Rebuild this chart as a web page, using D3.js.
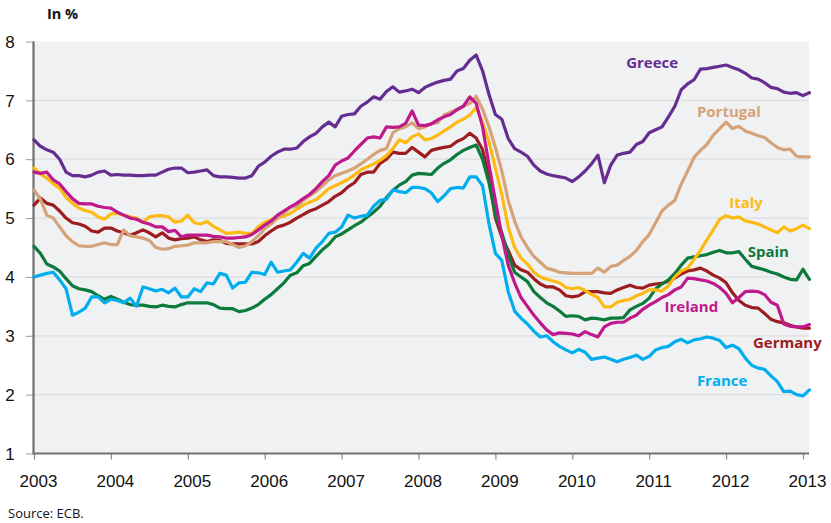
<!DOCTYPE html>
<html><head><meta charset="utf-8">
<script src="https://cdn.jsdelivr.net/npm/d3@7"></script>
<style>
body{margin:0;background:#fff;}
svg{display:block;font-family:"Open Sans","Noto Sans",sans-serif;}
</style></head>
<body><svg id="c" width="831" height="523"></svg>
<script>
// Monthly data, Jan 2003 .. Feb 2013 (in %)
const startYear = 2003;
const yearTicks = [2003,2004,2005,2006,2007,2008,2009,2010,2011,2012,2013];
const yTicks = [1,2,3,4,5,6,7,8];

const germany = [5.22,5.34,5.25,5.22,5.12,5.0,4.92,4.9,4.86,4.78,4.76,4.83,4.83,4.78,4.75,4.71,4.75,4.8,4.75,4.68,4.75,4.66,4.63,4.65,4.66,4.68,4.63,4.6,4.63,4.62,4.57,4.56,4.56,4.56,4.56,4.6,4.7,4.78,4.85,4.88,4.93,5.0,5.06,5.12,5.16,5.22,5.28,5.37,5.43,5.53,5.6,5.74,5.78,5.78,5.93,6.0,6.12,6.1,6.1,6.2,6.12,6.04,6.15,6.18,6.2,6.22,6.3,6.35,6.44,6.36,6.16,5.7,5.0,4.68,4.45,4.2,4.12,4.08,3.97,3.88,3.83,3.83,3.78,3.68,3.66,3.68,3.75,3.75,3.75,3.73,3.72,3.78,3.82,3.86,3.82,3.81,3.86,3.88,3.89,3.93,3.98,4.05,4.1,4.12,4.15,4.1,4.03,3.98,3.9,3.73,3.6,3.52,3.48,3.47,3.38,3.28,3.24,3.22,3.18,3.15,3.13,3.13];
const spain = [4.52,4.4,4.22,4.17,4.1,3.97,3.85,3.8,3.78,3.75,3.68,3.62,3.67,3.62,3.57,3.53,3.52,3.52,3.5,3.49,3.52,3.5,3.49,3.53,3.56,3.56,3.56,3.56,3.53,3.47,3.46,3.46,3.41,3.43,3.47,3.53,3.62,3.7,3.8,3.9,4.03,4.07,4.19,4.23,4.35,4.46,4.55,4.68,4.73,4.8,4.87,4.93,5.02,5.1,5.2,5.35,5.47,5.56,5.62,5.73,5.76,5.75,5.74,5.85,5.93,5.99,6.08,6.15,6.2,6.24,6.0,5.6,5.05,4.75,4.38,4.08,4.0,3.92,3.75,3.65,3.56,3.5,3.42,3.33,3.34,3.33,3.27,3.3,3.29,3.27,3.3,3.3,3.31,3.44,3.5,3.55,3.64,3.8,3.88,3.95,4.06,4.2,4.32,4.34,4.36,4.38,4.42,4.45,4.41,4.41,4.43,4.3,4.18,4.15,4.12,4.08,4.05,4.0,3.96,3.95,4.13,3.96];
const france = [4.0,4.03,4.06,4.08,3.95,3.8,3.35,3.4,3.47,3.66,3.66,3.56,3.62,3.6,3.56,3.64,3.5,3.83,3.8,3.76,3.79,3.73,3.81,3.66,3.66,3.8,3.75,3.9,3.88,4.06,4.03,3.81,3.9,3.91,4.08,4.07,4.04,4.25,4.08,4.1,4.12,4.25,4.4,4.32,4.49,4.6,4.74,4.76,4.85,5.05,5.0,5.03,5.05,5.2,5.3,5.32,5.48,5.45,5.43,5.52,5.52,5.5,5.43,5.28,5.38,5.5,5.52,5.51,5.7,5.7,5.55,4.9,4.4,4.28,3.75,3.42,3.3,3.2,3.08,2.98,3.0,2.9,2.82,2.76,2.71,2.77,2.72,2.6,2.62,2.64,2.6,2.56,2.6,2.63,2.67,2.6,2.65,2.76,2.8,2.82,2.9,2.94,2.88,2.93,2.95,2.98,2.96,2.92,2.8,2.84,2.78,2.62,2.5,2.45,2.43,2.32,2.22,2.05,2.06,2.0,1.98,2.08];
const italy = [5.85,5.75,5.68,5.58,5.51,5.35,5.25,5.17,5.13,5.1,5.02,4.98,5.07,5.08,5.05,5.02,5.0,4.93,5.02,5.04,5.04,5.02,4.93,4.95,5.05,4.92,4.9,4.94,4.86,4.8,4.74,4.75,4.76,4.74,4.74,4.85,4.93,4.97,5.0,5.03,5.08,5.15,5.22,5.27,5.31,5.4,5.5,5.55,5.6,5.66,5.73,5.82,5.87,5.92,5.98,6.06,6.18,6.33,6.28,6.38,6.43,6.33,6.35,6.41,6.48,6.55,6.63,6.68,6.75,6.88,6.62,6.3,5.85,5.4,4.85,4.5,4.32,4.22,4.08,4.0,3.96,3.93,3.9,3.82,3.8,3.82,3.77,3.7,3.65,3.49,3.49,3.57,3.6,3.62,3.68,3.72,3.78,3.78,3.76,3.85,4.0,4.1,4.15,4.3,4.45,4.63,4.8,4.98,5.04,5.0,5.02,4.95,4.93,4.9,4.85,4.8,4.75,4.85,4.78,4.82,4.88,4.82];
const portugal = [5.48,5.32,5.05,5.0,4.85,4.7,4.6,4.53,4.52,4.52,4.55,4.58,4.55,4.55,4.8,4.7,4.68,4.66,4.62,4.5,4.47,4.48,4.52,4.53,4.54,4.58,4.58,4.58,4.6,4.6,4.6,4.55,4.5,4.53,4.6,4.7,4.82,4.9,5.0,5.08,5.18,5.2,5.3,5.38,5.45,5.55,5.65,5.72,5.76,5.8,5.85,5.92,6.0,6.08,6.15,6.18,6.45,6.52,6.55,6.62,6.52,6.55,6.6,6.62,6.75,6.8,6.85,6.9,6.95,7.07,6.85,6.55,6.2,5.8,5.3,4.95,4.68,4.5,4.35,4.25,4.15,4.12,4.08,4.07,4.06,4.06,4.06,4.06,4.15,4.08,4.18,4.2,4.28,4.35,4.45,4.6,4.72,4.92,5.12,5.22,5.3,5.58,5.8,6.03,6.15,6.25,6.41,6.52,6.63,6.52,6.56,6.48,6.44,6.4,6.37,6.28,6.2,6.16,6.17,6.05,6.04,6.04];
const ireland = [5.78,5.76,5.78,5.65,5.58,5.45,5.33,5.25,5.24,5.24,5.2,5.18,5.17,5.1,5.05,5.0,4.98,4.93,4.9,4.85,4.85,4.77,4.79,4.68,4.71,4.71,4.71,4.71,4.69,4.68,4.66,4.66,4.67,4.68,4.72,4.8,4.88,4.95,5.05,5.12,5.19,5.25,5.33,5.4,5.5,5.62,5.72,5.9,5.97,6.02,6.14,6.25,6.36,6.38,6.36,6.55,6.54,6.55,6.61,6.82,6.58,6.57,6.6,6.67,6.72,6.76,6.84,6.9,7.06,6.95,6.55,5.9,5.3,4.7,4.2,3.9,3.65,3.5,3.35,3.22,3.1,3.02,3.05,3.04,3.03,3.0,3.07,3.02,2.98,3.15,3.21,3.23,3.23,3.3,3.35,3.45,3.52,3.58,3.65,3.7,3.78,3.83,3.98,3.97,3.95,3.93,3.89,3.82,3.72,3.56,3.65,3.75,3.76,3.75,3.7,3.57,3.52,3.2,3.16,3.15,3.15,3.19];
const greece = [6.33,6.22,6.16,6.12,6.0,5.78,5.72,5.72,5.7,5.73,5.78,5.8,5.73,5.74,5.73,5.73,5.72,5.72,5.73,5.73,5.78,5.83,5.85,5.85,5.77,5.78,5.8,5.82,5.72,5.7,5.7,5.69,5.68,5.68,5.72,5.88,5.95,6.05,6.12,6.17,6.17,6.19,6.3,6.38,6.44,6.55,6.63,6.55,6.73,6.76,6.77,6.9,6.97,7.06,7.02,7.15,7.23,7.14,7.16,7.19,7.13,7.22,7.27,7.31,7.34,7.36,7.5,7.54,7.68,7.77,7.5,7.1,6.76,6.68,6.35,6.18,6.12,6.05,5.9,5.8,5.75,5.72,5.7,5.68,5.62,5.7,5.8,5.92,6.07,5.6,5.9,6.07,6.1,6.12,6.25,6.3,6.45,6.5,6.55,6.72,6.9,7.18,7.28,7.35,7.53,7.54,7.56,7.58,7.6,7.56,7.52,7.46,7.38,7.36,7.3,7.22,7.2,7.14,7.12,7.13,7.08,7.13];

const seriesNames = ["Germany","Spain","France","Italy","Portugal","Ireland","Greece"];
const seriesValues = [germany,spain,france,italy,portugal,ireland,greece];
const seriesColors = ["#9d1c20","#0b7a3b","#00aeef","#fdbb12","#d6a277","#c0198b","#662d91"];
// label anchor (baseline-left) in data space: [year, value]
const labelPos = {
  Greece:[2010.70,7.55], Portugal:[2011.62,6.72], Italy:[2012.04,5.17],
  Spain:[2012.28,4.34], Ireland:[2011.2,3.40], Germany:[2012.35,2.79], France:[2011.62,2.15]
};

const svg = d3.select("#c");
const L=34, R=809, T=41.5, B=453.5;
const x = d3.scaleLinear().domain([2003,2013]).range([L,803]);
const y = d3.scaleLinear().domain([1,8]).range([B,T]);

svg.append("rect").attr("x",L).attr("y",T).attr("width",R-L).attr("height",B-T).attr("fill","#f0f1f3");

// gridlines
svg.append("g").selectAll("line").data(yTicks.filter(v=>v>1&&v<8)).join("line")
  .attr("x1",L).attr("x2",R).attr("y1",d=>y(d)).attr("y2",d=>y(d))
  .attr("stroke","#dcdddf").attr("stroke-width",1.2);

// y axis
const yAxis = d3.axisLeft(y).tickValues(yTicks).tickSize(8).tickFormat(d3.format("d"));
const gy = svg.append("g").attr("transform",`translate(${L},0)`).call(yAxis);
gy.select(".domain").remove();
gy.selectAll(".tick line").attr("stroke","#9a9a9a").attr("stroke-width",1);
gy.selectAll(".tick text").attr("x",-24).attr("text-anchor","middle").attr("dy","0.34em")
  .attr("font-size",17).attr("fill","#111");

// x axis
const xAxis = d3.axisBottom(x).tickValues(yearTicks).tickSize(6).tickFormat(d3.format("d"));
const gx = svg.append("g").attr("transform",`translate(0,${B})`).call(xAxis);
gx.select(".domain").remove();
gx.selectAll(".tick line").attr("stroke","#8a8a8a").attr("stroke-width",1.2);
gx.selectAll(".tick text").attr("x",4).attr("y",21).attr("dy","0.71em")
  .attr("font-size",17).attr("fill","#111");

// axis lines
svg.append("line").attr("x1",L).attr("x2",R).attr("y1",B).attr("y2",B).attr("stroke","#707070").attr("stroke-width",2.2);
svg.append("line").attr("x1",L-0.5).attr("x2",L-0.5).attr("y1",T).attr("y2",B+1).attr("stroke","#707070").attr("stroke-width",2.2);

// lines
const line = d3.line().x((d,i)=>x(startYear+i/12)).y(d=>y(d));
const gl = svg.append("g");
seriesNames.forEach((n,k)=>{
  gl.append("path").datum(seriesValues[k]).attr("d",line)
    .attr("fill","none").attr("stroke",seriesColors[k]).attr("stroke-width",3.2)
    .attr("stroke-linejoin","round").attr("stroke-linecap","round");
});

// labels
seriesNames.forEach((n,k)=>{
  const p = labelPos[n];
  svg.append("text").attr("x",x(p[0])).attr("y",y(p[1])).text(n)
    .attr("font-size",15).attr("font-weight","bold").attr("fill",seriesColors[k]);
});

svg.append("text").attr("x",47).attr("y",19).text("In %").attr("font-size",14.5).attr("font-weight","bold").attr("fill","#111");
svg.append("text").attr("x",8).attr("y",518).text("Source: ECB.").attr("font-size",13).attr("fill","#111");
</script></body></html>
